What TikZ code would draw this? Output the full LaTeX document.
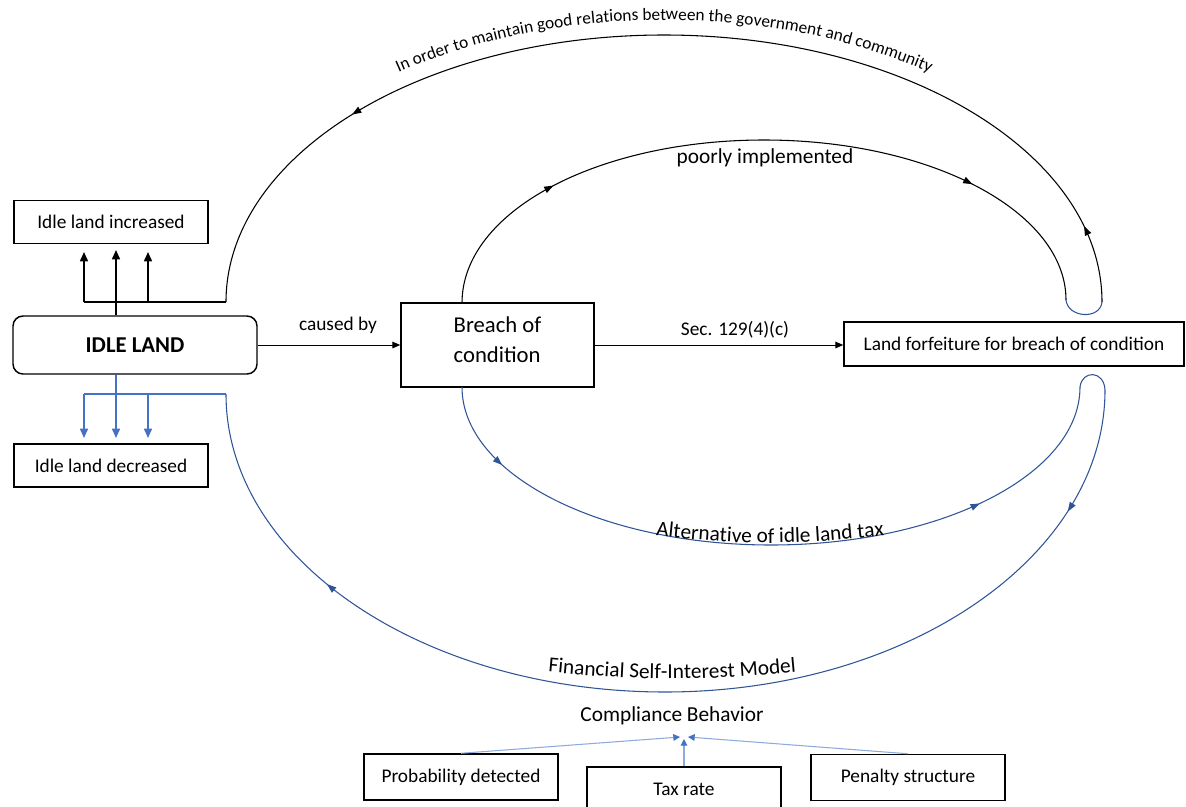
\documentclass[tikz,border=0pt]{standalone}
\usepackage{fontspec}
\setmainfont{Carlito}
\usetikzlibrary{arrows.meta,decorations.markings,decorations.text,calc}
\definecolor{lineblue}{HTML}{4472C4}
\definecolor{curveblue}{HTML}{2F5597}
\definecolor{lightblue}{HTML}{8FAADC}
\begin{document}
\begin{tikzpicture}[x=0.75pt,y=-0.75pt,
  box/.style={draw=black, line width=1.1pt, inner sep=0pt, font=\fontsize{14.5}{17}\selectfont, minimum width=145.5pt, minimum height=32.25pt},
  lbl/.style={font=\fontsize{14.5}{17}\selectfont, inner sep=0pt},
  biglbl/.style={font=\fontsize{16}{19}\selectfont, inner sep=0pt},
  thickarr/.style={line width=1.2pt, -{Triangle[length=7pt,width=6pt]}},
  flow/.style={line width=0.8pt},
  midarrows/.style 2 args={postaction={decorate, decoration={markings,
      mark=at position #1 with {\arrow{Triangle[length=7pt,width=5pt]}},
      mark=at position #2 with {\arrow{Triangle[length=7pt,width=5pt]}}}}},
  smallarr/.style={line width=0.75pt, -{Triangle[length=6pt,width=5pt]}},
  comparr/.style={lightblue, line width=0.8pt, -{Triangle[length=5pt,width=5pt,color=lineblue]}},
]
\useasboundingbox (0,0) rectangle (1186,807);

% boxes
\node[box] (inc) at (111,222) {Idle land increased};
\node[box, rounded corners=7.5pt, minimum width=183pt, minimum height=43.5pt,
      font=\bfseries\fontsize{17}{20}\selectfont] (idle) at (135,345) {IDLE LAND};
\node[box] (dec) at (111,465.5) {Idle land decreased};
\node[box, minimum width=144.75pt, minimum height=63pt] (breach) at (497.5,345) {};
\node[align=left, inner sep=0pt, font=\fontsize{17}{22.5}\selectfont] (breachtxt) at (497.5,340) {Breach of\\condition};
\node[box, minimum width=255pt, minimum height=33pt] (forf) at (1014,344) {Land forfeiture for breach of condition};
\node[box, minimum height=34.5pt] (prob) at (461,777) {Probability detected};
\node[box, minimum height=33.75pt] (tax) at (684,789.5) {Tax rate};
\node[box, minimum height=34.5pt] (pen) at (908,777.5) {Penalty structure};

% labels
\node[lbl] (causedby) at (338,325) {caused by};
\node[lbl] (sec) at (735,330) {Sec. 129(4)(c)};
\node[biglbl] (poor) at (765,158) {poorly implemented};
\node[biglbl] (comp) at (672,716) {Compliance Behavior};

% coordinates
\coordinate (jT) at (226,302);
\coordinate (hT) at (84,302);
\coordinate (jB) at (226,394);
\coordinate (hB) at (84,394);
\coordinate (bT) at (462,303);
\coordinate (bB) at (462,387);
\coordinate (uaL) at (1066,300);
\coordinate (uaR) at (1102,302);
\coordinate (ubL) at (1080,387);
\coordinate (ubR) at (1105,390);
\coordinate (t1) at (84,252);
\coordinate (t2) at (116,250);
\coordinate (t3) at (148,252);
\coordinate (d1) at (84,438);
\coordinate (d2) at (116,438);
\coordinate (d3) at (148,438);
\coordinate (cTL) at (680,737);
\coordinate (cTR) at (688,737);
\coordinate (cT) at (684,739);

% straight connectors
\draw[smallarr] (idle.east) -- (breach.west);
\draw[smallarr] (breach.east) -- (breach.east -| forf.west);

% idle land increased
\draw[line width=1.2pt] (hT) -- (jT);
\draw[thickarr] (hT) -- (t1);
\draw[thickarr] (idle.north -| t2) -- (t2);
\draw[thickarr] (hT -| t3) -- (t3);

% idle land decreased
\draw[lineblue, line width=1.2pt] (hB) -- (jB);
\draw[lineblue, thickarr] (hB) -- (d1);
\draw[lineblue, thickarr] (idle.south -| d2) -- (d2);
\draw[lineblue, thickarr] (hB -| d3) -- (d3);

% upper loops
\draw[flow, midarrows={0.07}{0.79}] (uaR) .. controls (1102,154.5) and (906,35) .. (664,35)
   .. controls (422,35) and (226,154.5) .. (jT);
\draw[flow, midarrows={0.21}{0.79}] (bT) .. controls (462,211.6) and (597,140) .. (764,140)
   .. controls (931,140) and (1066,211.6) .. (uaL);
\draw[flow, curveblue] (uaL) .. controls (1068,318) and (1100,320) .. (uaR);

% lower loops
\draw[flow, curveblue, midarrows={0.12}{0.785}] (bB) .. controls (462,474.3) and (600.3,545) .. (771,545)
   .. controls (941.7,545) and (1080,474.3) .. (ubL);
\draw[flow, curveblue] (ubL) .. controls (1082,370) and (1104,370) .. (ubR);
\draw[flow, curveblue, midarrows={0.11}{0.81}] (ubR) .. controls (1105,556) and (908,692) .. (665,692)
   .. controls (423,692) and (226,559) .. (jB);

% curved texts
\path[decorate, decoration={text along path, text align=center,
   text={|\fontsize{13}{15}\selectfont|In order to maintain good relations between the government and community}}]
   (208,302) .. controls (208,146) and (412,20) .. (664,20) .. controls (916,20) and (1120,146) .. (1120,302);
\path[decorate, decoration={text along path, text align=center,
   text={|\fontsize{16}{19}\selectfont|Alternative of idle land tax}}]
   (530,520) .. controls (770,550.7) .. (1010,520);
\path[decorate, decoration={text along path, text align=center,
   text={|\fontsize{16}{19}\selectfont|Financial Self-Interest Model}}]
   (430,660) .. controls (672,685.3) .. (914,660);

% compliance behaviour
\draw[comparr] (prob.north) -- (cTL);
\draw[comparr] (pen.north) -- (cTR);
\draw[comparr] (tax.north) -- (cT);
\end{tikzpicture}
\end{document}
